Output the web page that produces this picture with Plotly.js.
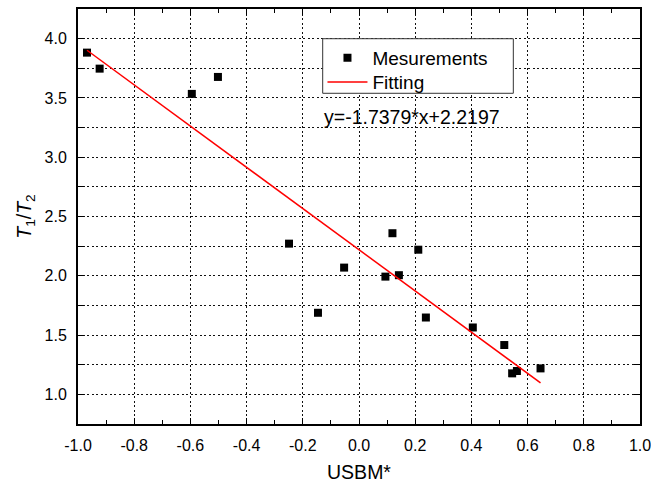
<!DOCTYPE html>
<html>
<head>
<meta charset="utf-8">
<script src="https://cdn.plot.ly/plotly-3.0.1.min.js"></script>
<style>html,body{margin:0;padding:0;background:#fff;}#chart{width:651px;height:483px;}</style>
</head>
<body>
<div id="chart"></div>
<script>
// Measured data (USBM* vs T1/T2)
var usbm = [-0.968, -0.923, -0.595, -0.502, -0.249, -0.146, -0.053, 0.094, 0.119, 0.142, 0.211, 0.238, 0.405, 0.517, 0.545, 0.562, 0.646];
var ratio = [3.882, 3.747, 3.534, 3.677, 2.271, 1.688, 2.069, 1.993, 2.359, 2.005, 2.220, 1.648, 1.564, 1.416, 1.177, 1.197, 1.219];
// Fitted line endpoints
var fitX = [-0.968, 0.646];
var fitY = [3.902, 1.097];
var equationText = 'y=-1.7379*x+2.2197';
// Tick labels
var xTickVals = [-1.0, -0.8, -0.6, -0.4, -0.2, 0.0, 0.2, 0.4, 0.6, 0.8, 1.0];
var xTickText = ['-1.0', '-0.8', '-0.6', '-0.4', '-0.2', '0.0', '0.2', '0.4', '0.6', '0.8', '1.0'];
var yTickVals = [1.0, 1.5, 2.0, 2.5, 3.0, 3.5, 4.0];
var yTickText = ['1.0', '1.5', '2.0', '2.5', '3.0', '3.5', '4.0'];

var FONT = 'Arial, "Liberation Sans", sans-serif';
var DOT = '2px,2.5px';

var traces = [
  {x: usbm, y: ratio, type: 'scatter', mode: 'markers', name: 'Mesurements', legend: 'legend',
   marker: {symbol: 'square', size: 8, color: '#000'}},
  {x: fitX, y: fitY, type: 'scatter', mode: 'lines', name: 'Fitting', legend: 'legend2',
   line: {color: '#ff0000', width: 1.5}}
];

var axisCommon = {
  showline: true, linecolor: '#000', linewidth: 2, mirror: 'ticks',
  ticks: 'inside', ticklen: 6, tickwidth: 1, tickcolor: '#000',
  showgrid: true, gridcolor: '#111', gridwidth: 1, griddash: DOT,
  zeroline: false, tickfont: {family: FONT, size: 16, color: '#000'},
  tickmode: 'array', ticklabeloverflow: 'allow'
};

var legendCommon = {xanchor: 'left', yanchor: 'middle', bgcolor: 'rgba(0,0,0,0)', borderwidth: 0,
                    font: {family: FONT, size: 19, color: '#000'}, itemwidth: 40};

var layout = {
  width: 651, height: 483,
  margin: {l: 78, r: 11, t: 9, b: 59},
  paper_bgcolor: '#fff', plot_bgcolor: '#fff',
  font: {family: FONT, color: '#000'},
  showlegend: true,
  legend: Object.assign({}, legendCommon, {x: 0.435, y: 0.882}),
  legend2: Object.assign({}, legendCommon, {x: 0.435, y: 0.824}),
  shapes: [
    {type: 'rect', xref: 'paper', yref: 'paper', x0: 0.4354, x1: 0.7746, y0: 0.7969, y1: 0.9284,
     line: {color: '#333', width: 1}, fillcolor: '#fff', layer: 'above'}
  ],
  xaxis: Object.assign({}, axisCommon, {
    range: [-1, 1], tickvals: xTickVals, ticktext: xTickText, ticklabelstandoff: 6,
    minor: {tickvals: [-0.9, -0.7, -0.5, -0.3, -0.1, 0.1, 0.3, 0.5, 0.7, 0.9],
            ticks: 'inside', ticklen: 4, tickcolor: '#000', showgrid: false},
    title: {text: 'USBM*', font: {family: FONT, size: 19.5, color: '#000'}, standoff: 22}
  }),
  yaxis: Object.assign({}, axisCommon, {
    range: [0.75, 4.25], tickvals: yTickVals, ticktext: yTickText, ticklabelstandoff: 6,
    minor: {tickvals: [1.25, 1.75, 2.25, 2.75, 3.25, 3.75], ticks: 'inside', ticklen: 6, tickcolor: '#000',
            showgrid: true, gridcolor: '#111', gridwidth: 1, griddash: DOT},
    title: {text: '<i>T</i><sub>1</sub>/<i>T</i><sub>2</sub>', font: {family: FONT, size: 19.5, color: '#000'}, standoff: 8}
  }),
  annotations: [
    {text: equationText, xref: 'x', yref: 'y', x: -0.130, y: 3.337,
     xanchor: 'left', yanchor: 'middle', showarrow: false,
     font: {family: FONT, size: 19.5, color: '#000'}}
  ]
};

Plotly.newPlot('chart', traces, layout, {displayModeBar: false, staticPlot: true});
</script>
</body>
</html>
